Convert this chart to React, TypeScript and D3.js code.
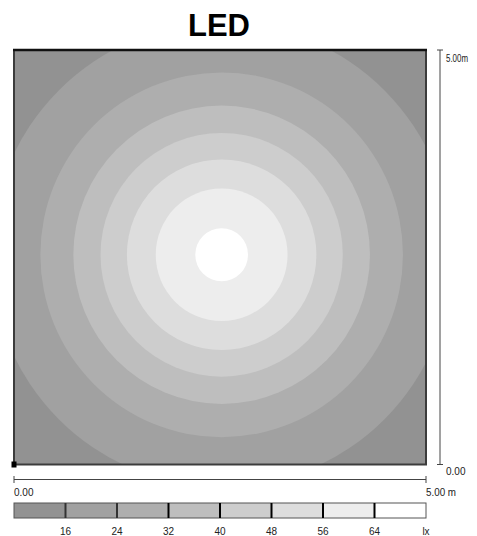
import React from 'react';
import * as d3 from 'd3';

// ---- data ----
const title = 'LED';
const roomExtent = [0, 5]; // metres, both axes
const luminaire = [2.52, 2.53]; // centre of the isolux pattern (m)
const levels = [16, 24, 32, 40, 48, 56, 64]; // lx
const contourRadii = [2.8, 2.2, 1.8, 1.47, 1.15, 0.8, 0.32]; // m, radius of each isolux level
const legendLabels = ['16', '24', '32', '40', '48', '56', '64', 'lx'];
const xAxisLabels = ['0.00', '5.00 m'];
const yAxisLabels = ['0.00', '5.00m'];

// ---- styles ----
const bandColors = ['#929292', '#a1a1a1', '#aeaeae', '#bebebe', '#cdcdcd', '#dddddd', '#ededed', '#ffffff'];
const font = '"Liberation Sans", Arial, sans-serif';

export default function App() {
  const W = 477, H = 536;
  const x = d3.scaleLinear().domain(roomExtent).range([14, 426]);
  const y = d3.scaleLinear().domain(roomExtent).range([464.5, 50]);
  const color = d3.scaleThreshold<number, string>().domain(levels).range(bandColors);
  const legendX = d3.scaleLinear().domain([0, bandColors.length]).range([14, 426]);
  const legY0 = 503, legY1 = 518;

  const cx = x(luminaire[0]);
  const cy = y(luminaire[1]);

  return (
    <svg width={W} height={H} style={{ position: 'absolute', left: 0, top: 0 }} fontFamily={font}>
      <rect x={0} y={0} width={W} height={H} fill="#ffffff" />
      <text x={219} y={36} textAnchor="middle" fontSize={31} fontWeight="bold" fill="#000">{title}</text>

      <defs>
        <clipPath id="plotClip">
          <rect x={x(0)} y={y(5)} width={x(5) - x(0)} height={y(0) - y(5)} />
        </clipPath>
      </defs>

      <g clipPath="url(#plotClip)">
        <rect x={x(0)} y={y(5)} width={x(5) - x(0)} height={y(0) - y(5)} fill={color(0)} />
        {levels.map((lv, i) => (
          <ellipse
            key={lv}
            cx={cx}
            cy={cy}
            rx={x(contourRadii[i]) - x(0)}
            ry={y(0) - y(contourRadii[i])}
            fill={color(lv)}
          />
        ))}
      </g>
      <rect x={x(0)} y={y(5)} width={x(5) - x(0)} height={y(0) - y(5)} fill="none" stroke="#3c3c3c" strokeWidth={2} />
      <line x1={x(0) - 1} x2={x(5) + 1} y1={y(5)} y2={y(5)} stroke="#111" strokeWidth={2.5} />
      <rect x={x(0) - 2.5} y={y(0) - 3} width={5} height={6} fill="#000" />

      {/* right scale */}
      <line x1={440} x2={440} y1={y(5)} y2={y(0)} stroke="#444" strokeWidth={1} />
      <line x1={437} x2={443} y1={y(5)} y2={y(5)} stroke="#444" strokeWidth={1} />
      <line x1={437} x2={443} y1={y(0)} y2={y(0)} stroke="#444" strokeWidth={1} />
      <text x={446} y={y(5) + 12} fontSize={10} fill="#222" textLength={22} lengthAdjust="spacingAndGlyphs">{yAxisLabels[1]}</text>
      <text x={446} y={y(0) + 10} fontSize={10} fill="#222">{yAxisLabels[0]}</text>

      {/* bottom scale */}
      <line x1={x(0)} x2={x(5)} y1={479.5} y2={479.5} stroke="#444" strokeWidth={1} />
      <line x1={x(0)} x2={x(0)} y1={476} y2={483} stroke="#444" strokeWidth={1} />
      <line x1={x(5)} x2={x(5)} y1={476} y2={483} stroke="#444" strokeWidth={1} />
      <text x={x(0)} y={496} fontSize={10} fill="#222">{xAxisLabels[0]}</text>
      <text x={x(5)} y={496} fontSize={10} fill="#222" textLength={30} lengthAdjust="spacingAndGlyphs">{xAxisLabels[1]}</text>

      {/* legend */}
      {bandColors.map((c, i) => (
        <rect key={i} x={legendX(i)} y={legY0} width={legendX(i + 1) - legendX(i)} height={legY1 - legY0} fill={c} />
      ))}
      <rect x={legendX(0)} y={legY0} width={legendX(bandColors.length) - legendX(0)} height={legY1 - legY0} fill="none" stroke="#555" strokeWidth={1} />
      {d3.range(1, bandColors.length).map((i) => (
        <line key={i} x1={legendX(i)} x2={legendX(i)} y1={legY0} y2={legY1} stroke={i < 3 ? '#333' : '#000'} strokeWidth={2} />
      ))}
      {legendLabels.map((t, i) => (
        <text key={t} x={legendX(i + 1)} y={535} fontSize={10} textAnchor="middle" fill="#222">{t}</text>
      ))}
    </svg>
  );
}
